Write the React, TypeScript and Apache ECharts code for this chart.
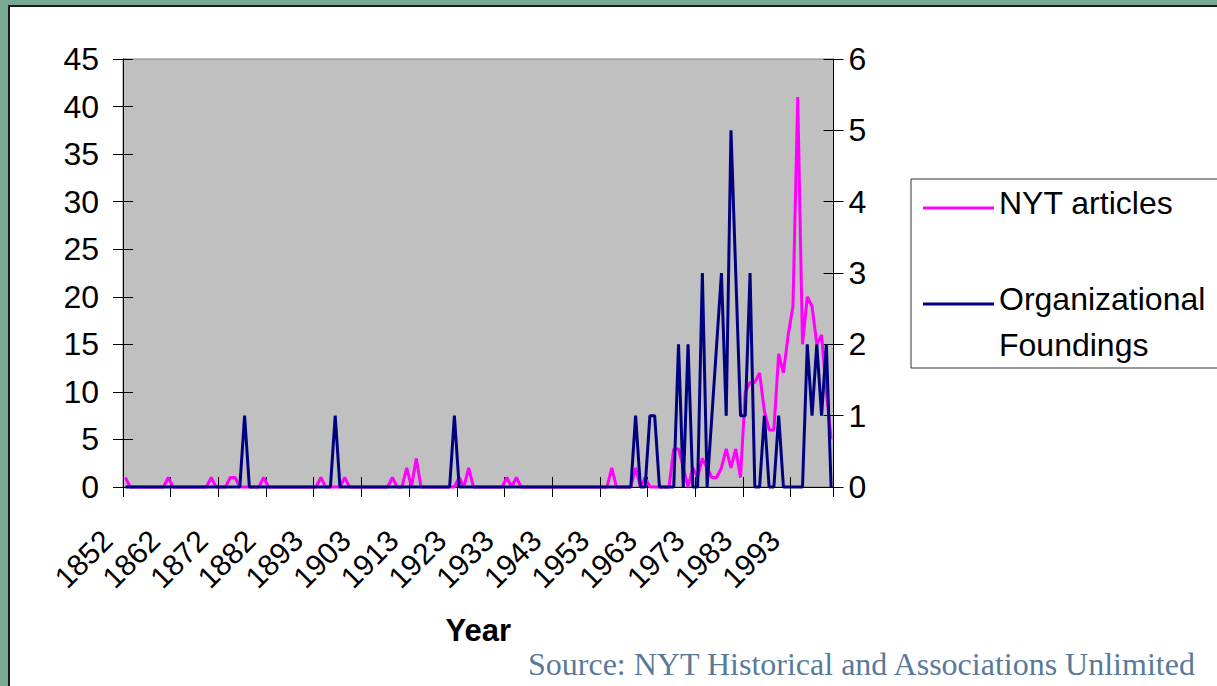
import React, { useEffect, useRef } from "react";
import * as echarts from "echarts";

// Category axis: years (one year between 1882 and 1893 is absent in the source chart)
const years: string[] = [
  "1852", "1853", "1854", "1855", "1856", "1857", "1858", "1859", "1860", "1861",
  "1862", "1863", "1864", "1865", "1866", "1867", "1868", "1869", "1870", "1871",
  "1872", "1873", "1874", "1875", "1876", "1877", "1878", "1879", "1880", "1881",
  "1882", "1883", "1884", "1885", "1886", "1887", "1888", "1889", "1891", "1892",
  "1893", "1894", "1895", "1896", "1897", "1898", "1899", "1900", "1901", "1902",
  "1903", "1904", "1905", "1906", "1907", "1908", "1909", "1910", "1911", "1912",
  "1913", "1914", "1915", "1916", "1917", "1918", "1919", "1920", "1921", "1922",
  "1923", "1924", "1925", "1926", "1927", "1928", "1929", "1930", "1931", "1932",
  "1933", "1934", "1935", "1936", "1937", "1938", "1939", "1940", "1941", "1942",
  "1943", "1944", "1945", "1946", "1947", "1948", "1949", "1950", "1951", "1952",
  "1953", "1954", "1955", "1956", "1957", "1958", "1959", "1960", "1961", "1962",
  "1963", "1964", "1965", "1966", "1967", "1968", "1969", "1970", "1971", "1972",
  "1973", "1974", "1975", "1976", "1977", "1978", "1979", "1980", "1981", "1982",
  "1983", "1984", "1985", "1986", "1987", "1988", "1989", "1990", "1991", "1992",
  "1993", "1994", "1995", "1996", "1997", "1998", "1999", "2000", "2001",
];

// NYT articles per year (left axis)
const nytArticles: number[] = [
  1, 0, 0, 0, 0, 0, 0, 0, 0, 1,
  0, 0, 0, 0, 0, 0, 0, 0, 1, 0,
  0, 0, 1, 1, 0, 0, 0, 0, 0, 1,
  0, 0, 0, 0, 0, 0, 0, 0, 0, 0,
  0, 1, 0, 0, 0, 0, 1, 0, 0, 0,
  0, 0, 0, 0, 0, 0, 1, 0, 0, 2,
  0, 3, 0, 0, 0, 0, 0, 0, 0, 0,
  1, 0, 2, 0, 0, 0, 0, 0, 0, 0,
  1, 0, 1, 0, 0, 0, 0, 0, 0, 0,
  0, 0, 0, 0, 0, 0, 0, 0, 0, 0,
  0, 0, 2, 0, 0, 0, 0, 2, 0, 1,
  0, 0, 0, 0, 0, 4, 4, 2, 0, 2,
  1, 3, 2, 1, 1, 2, 4, 2, 4, 1,
  10, 11, 11, 12, 8, 6, 6, 14, 12, 16,
  19, 41, 15, 20, 19, 15, 16, 10, 5,
];

// Organizational foundings per year (right axis)
const orgFoundings: number[] = [
  0, 0, 0, 0, 0, 0, 0, 0, 0, 0,
  0, 0, 0, 0, 0, 0, 0, 0, 0, 0,
  0, 0, 0, 0, 0, 1, 0, 0, 0, 0,
  0, 0, 0, 0, 0, 0, 0, 0, 0, 0,
  0, 0, 0, 0, 1, 0, 0, 0, 0, 0,
  0, 0, 0, 0, 0, 0, 0, 0, 0, 0,
  0, 0, 0, 0, 0, 0, 0, 0, 0, 1,
  0, 0, 0, 0, 0, 0, 0, 0, 0, 0,
  0, 0, 0, 0, 0, 0, 0, 0, 0, 0,
  0, 0, 0, 0, 0, 0, 0, 0, 0, 0,
  0, 0, 0, 0, 0, 0, 0, 1, 0, 0,
  1, 1, 0, 0, 0, 0, 2, 0, 2, 0,
  0, 3, 0, 1, 2, 3, 1, 5, 3, 1,
  1, 3, 0, 0, 1, 0, 0, 1, 0, 0,
  0, 0, 0, 2, 1, 2, 1, 2, 0,
];

const leftAxis = { min: 0, max: 45, interval: 5 };
const rightAxis = { min: 0, max: 6, interval: 1 };

const SERIES_NYT = "NYT articles";
const SERIES_ORG = "Organizational Foundings";
const SOURCE_TEXT = "Source: NYT Historical and Associations Unlimited";

const SANS = "'Liberation Sans', Arial, sans-serif";
const SERIF = "'Liberation Serif', 'Times New Roman', serif";

export default function App() {
  const ref = useRef<HTMLDivElement>(null);

  useEffect(() => {
    if (!ref.current) return;
    const chart = echarts.init(ref.current, null, { renderer: "svg" });
    const tickStyle = { color: "#000", width: 1 };
    const option: any = {
      animation: false,
      textStyle: { fontFamily: SANS },
      grid: {
        left: 123,
        top: 59,
        width: 710.5,
        height: 428,
        show: true,
        backgroundColor: "#C0C0C0",
        borderColor: "#808080",
        borderWidth: 1,
      },
      legend: {
        orient: "vertical",
        left: 911,
        top: 179,
        padding: [8, 20, 7, 12],
        itemGap: 17,
        itemWidth: 71,
        itemHeight: 3,
        icon: "rect",
        backgroundColor: "#fff",
        borderColor: "#333",
        borderWidth: 1,
        textStyle: {
          fontSize: 32,
          color: "#000",
          fontFamily: SANS,
          rich: {
            t: { fontSize: 32, lineHeight: 46, color: "#000", fontFamily: SANS },
            s: { fontSize: 10, lineHeight: 36 },
            b: { fontSize: 10, lineHeight: 10 },
          },
        },
        formatter: (name: string) =>
          name === SERIES_ORG
            ? "{s| }\n{t|Organizational}\n{t|Foundings}"
            : "{t|" + name + "}\n{b| }",
        data: [SERIES_NYT, SERIES_ORG],
      },
      xAxis: [
        {
          type: "category",
          data: years,
          boundaryGap: true,
          position: "bottom",
          axisLine: { show: true, lineStyle: tickStyle },
          axisTick: { show: true, interval: 9, length: 10, inside: false, lineStyle: tickStyle },
          axisLabel: {
            interval: 9,
            rotate: 45,
            fontSize: 30,
            color: "#000",
            fontFamily: SANS,
            margin: 30,
            padding: [0, 26, 0, 0],
          },
          splitLine: { show: false },
          name: "Year",
          nameLocation: "middle",
          nameGap: 128,
          nameTextStyle: { fontSize: 31, fontWeight: "bold", color: "#000", fontFamily: SANS },
        },
        {
          type: "category",
          data: years,
          boundaryGap: true,
          position: "bottom",
          axisLine: { show: false },
          axisTick: { show: true, interval: 9, length: 10, inside: true, lineStyle: tickStyle },
          axisLabel: { show: false },
          splitLine: { show: false },
        },
      ],
      yAxis: [
        {
          type: "value",
          position: "left",
          ...leftAxis,
          axisLine: { show: true, lineStyle: tickStyle },
          axisTick: { show: true, length: 10, inside: false, lineStyle: tickStyle },
          axisLabel: { fontSize: 32, color: "#000", fontFamily: SANS, margin: 24 },
          splitLine: { show: false },
        },
        {
          type: "value",
          position: "right",
          ...rightAxis,
          axisLine: { show: true, lineStyle: tickStyle },
          axisTick: { show: true, length: 10, inside: false, lineStyle: tickStyle },
          axisLabel: { fontSize: 32, color: "#000", fontFamily: SANS, margin: 15 },
          splitLine: { show: false },
        },
        {
          type: "value",
          position: "left",
          ...leftAxis,
          axisLine: { show: false },
          axisTick: { show: true, length: 10, inside: true, lineStyle: tickStyle },
          axisLabel: { show: false },
          splitLine: { show: false },
        },
        {
          type: "value",
          position: "right",
          ...rightAxis,
          axisLine: { show: false },
          axisTick: { show: true, length: 10, inside: true, lineStyle: tickStyle },
          axisLabel: { show: false },
          splitLine: { show: false },
        },
      ],
      series: [
        {
          name: SERIES_NYT,
          type: "line",
          data: nytArticles,
          xAxisIndex: 0,
          yAxisIndex: 0,
          symbol: "none",
          clip: false,
          lineStyle: { color: "#FF00FF", width: 3 },
          itemStyle: { color: "#FF00FF" },
        },
        {
          name: SERIES_ORG,
          type: "line",
          data: orgFoundings,
          xAxisIndex: 0,
          yAxisIndex: 1,
          symbol: "none",
          clip: false,
          lineStyle: { color: "#000080", width: 3 },
          itemStyle: { color: "#000080" },
        },
      ],
      graphic: [
        {
          type: "text",
          left: 528,
          top: 648,
          style: {
            text: SOURCE_TEXT,
            font: `32px ${SERIF}`,
            fill: "#587A99",
          },
        },
      ],
    };
    chart.setOption(option);
    return () => chart.dispose();
  }, []);

  return (
    <div
      style={{
        position: "fixed",
        left: 0,
        top: 0,
        width: 1217,
        height: 686,
        background: "#79A893",
        overflow: "hidden",
      }}
    >
      <div
        style={{
          position: "absolute",
          left: 8,
          top: 5,
          width: 1230,
          height: 700,
          background: "#fff",
          borderLeft: "2px solid #1a1a1a",
          borderTop: "2px solid #1a1a1a",
        }}
      />
      <div
        ref={ref}
        style={{ position: "absolute", left: 0, top: 0, width: 1217, height: 686 }}
      />
    </div>
  );
}
